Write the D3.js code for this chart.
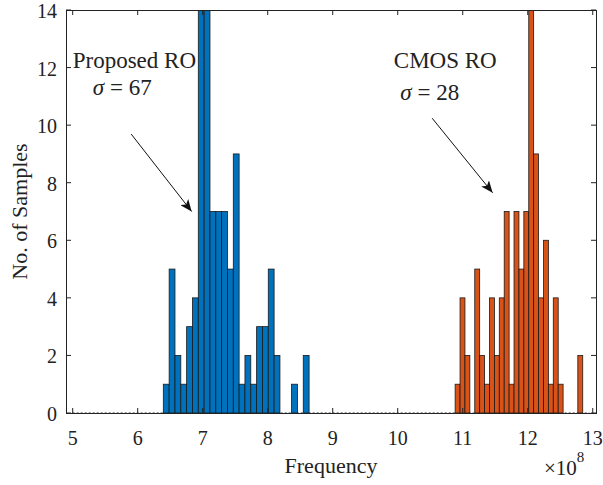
<!DOCTYPE html>
<html>
  <head>
    <script src="https://d3js.org/d3.v7.min.js"></script>
    <style>
      body { margin: 0; background: #fff; }
      text { font-family: "Liberation Serif", "Times New Roman", serif; fill: #222; }
    </style>
  </head>
  <body>
    <script>

// histogram counts, bins in units of 1e8 Hz
const proposedCounts = [1, 5, 2, 1, 3, 4, 14, 15, 7, 7, 7, 5, 9, 1, 2, 1, 3, 3, 5, 2, 0, 0, 1, 0, 2];
const proposedStart = 6.394;
const proposedBinWidth = 0.0897;

const cmosCounts = [1, 4, 2, 0, 5, 2, 1, 4, 2, 4, 7, 1, 7, 5, 7, 14, 9, 4, 6, 1, 4, 1, 0, 0, 0, 2];
const cmosStart = 10.883;
const cmosBinWidth = 0.0755;

const xTicks = [5, 6, 7, 8, 9, 10, 11, 12, 13];
const yTicks = [0, 2, 4, 6, 8, 10, 12, 14];

// annotations in data coordinates
const labels = [
  { text: "Proposed RO", sigma: "67", x: 5.0, y: 11.98, sx: 5.31, sy: 11.05,
    arrow: [5.9, 9.69, 6.83, 7.0] },
  { text: "CMOS RO", sigma: "28", x: 9.94, y: 12.0, sx: 10.04, sy: 10.87,
    arrow: [10.53, 10.24, 11.46, 7.65] }
];

const width = 603, height = 485;
const margin = { left: 66, right: 7, top: 10, bottom: 72 };

const x = d3.scaleLinear().domain([4.897, 13.05]).range([margin.left, width - margin.right]);
const y = d3.scaleLinear().domain([0, 14]).range([height - margin.bottom, margin.top]);

const svg = d3.select("body").append("svg")
    .attr("width", width)
    .attr("height", height);

svg.append("defs").append("clipPath").attr("id", "plot")
  .append("rect")
    .attr("x", x.range()[0]).attr("y", y.range()[1])
    .attr("width", x.range()[1] - x.range()[0])
    .attr("height", y.range()[0] - y.range()[1]);

function bins(counts, start, w) {
  return counts.map((c, i) => ({ x0: start + i * w, x1: start + (i + 1) * w, count: c }));
}

const plot = svg.append("g").attr("clip-path", "url(#plot)");

// zero-height bins along the baseline
plot.append("line")
    .attr("x1", x(5)).attr("x2", x(12.95))
    .attr("y1", y(0) - 0.5).attr("y2", y(0) - 0.5)
    .attr("stroke", "#999")
    .attr("stroke-dasharray", "2,2");

const series = [
  { data: bins(proposedCounts, proposedStart, proposedBinWidth), color: "#0072BD" },
  { data: bins(cmosCounts, cmosStart, cmosBinWidth), color: "#D95319" }
];

series.forEach(s => {
  plot.selectAll(null)
    .data(s.data.filter(d => d.count > 0))
    .enter().append("rect")
      .attr("x", d => x(d.x0))
      .attr("y", d => y(d.count))
      .attr("width", d => x(d.x1) - x(d.x0))
      .attr("height", d => y(0) - y(d.count))
      .attr("fill", s.color)
      .attr("stroke", "#1a1a1a")
      .attr("stroke-width", 0.8);
});

// box and inward ticks
const box = svg.append("g").attr("stroke", "#222").attr("fill", "none");
box.append("rect")
    .attr("x", x.range()[0] + 0.5).attr("y", y.range()[1] + 0.5)
    .attr("width", x.range()[1] - x.range()[0])
    .attr("height", y.range()[0] - y.range()[1]);

const tl = 5;
xTicks.forEach(t => {
  box.append("line").attr("x1", x(t)).attr("x2", x(t)).attr("y1", y(0)).attr("y2", y(0) - tl);
  box.append("line").attr("x1", x(t)).attr("x2", x(t)).attr("y1", y(14)).attr("y2", y(14) + tl);
});
yTicks.forEach(t => {
  box.append("line").attr("x1", x.range()[0]).attr("x2", x.range()[0] + tl).attr("y1", y(t)).attr("y2", y(t));
  box.append("line").attr("x1", x.range()[1]).attr("x2", x.range()[1] - tl).attr("y1", y(t)).attr("y2", y(t));
});

svg.append("g").selectAll("text")
  .data(xTicks)
  .enter().append("text")
    .attr("x", d => x(d))
    .attr("y", y(0) + 32)
    .attr("text-anchor", "middle")
    .attr("font-size", 20)
    .text(d => d);

svg.append("g").selectAll("text")
  .data(yTicks)
  .enter().append("text")
    .attr("x", x.range()[0] - 9)
    .attr("y", d => y(d) + 8)
    .attr("text-anchor", "end")
    .attr("font-size", 20)
    .text(d => d);

svg.append("text")
    .attr("x", 331)
    .attr("y", 473)
    .attr("text-anchor", "middle")
    .attr("font-size", 22)
    .text("Frequency");

const mult = svg.append("text")
    .attr("x", 544)
    .attr("y", 475)
    .attr("font-size", 21);
mult.append("tspan").text("\u00d710");
mult.append("tspan").attr("dy", -13).attr("font-size", 15).text("8");

svg.append("text")
    .attr("transform", "translate(27," + (y(7)) + ") rotate(-90)")
    .attr("text-anchor", "middle")
    .attr("font-size", 22)
    .text("No. of Samples");

// annotations
const defs = svg.select("defs");
defs.append("marker")
    .attr("id", "head")
    .attr("viewBox", "0 0 12 10")
    .attr("refX", 12).attr("refY", 5)
    .attr("markerWidth", 12).attr("markerHeight", 10)
    .attr("markerUnits", "userSpaceOnUse")
    .attr("orient", "auto")
  .append("path")
    .attr("d", "M0,0 L12,5 L0,10 L3,5 Z")
    .attr("fill", "#111");

labels.forEach(l => {
  svg.append("text")
      .attr("x", x(l.x)).attr("y", y(l.y))
      .attr("font-size", 23)
      .text(l.text);
  const s = svg.append("text")
      .attr("x", x(l.sx)).attr("y", y(l.sy))
      .attr("font-size", 23);
  s.append("tspan").attr("font-style", "italic").text("\u03c3");
  s.append("tspan").text(" = " + l.sigma);
  svg.append("line")
      .attr("x1", x(l.arrow[0])).attr("y1", y(l.arrow[1]))
      .attr("x2", x(l.arrow[2])).attr("y2", y(l.arrow[3]))
      .attr("stroke", "#111")
      .attr("stroke-width", 1)
      .attr("marker-end", "url(#head)");
});

    </script>
  </body>
</html>
